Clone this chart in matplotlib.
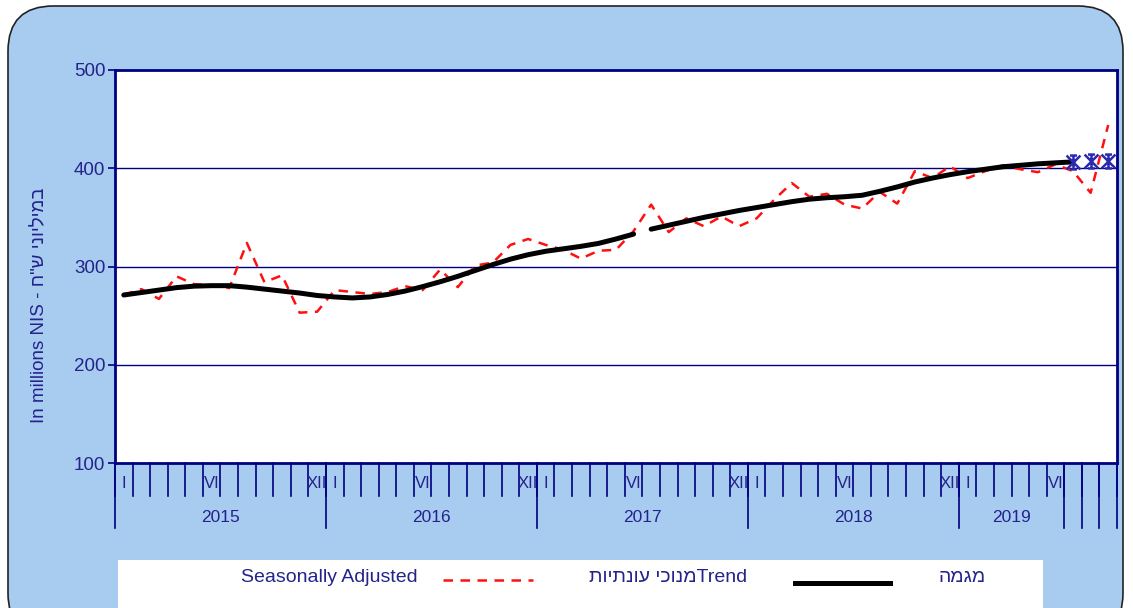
import matplotlib
matplotlib.use('Agg')
import matplotlib.pyplot as plt
from matplotlib.patches import FancyBboxPatch, Rectangle
from matplotlib.lines import Line2D
from matplotlib.path import Path
import numpy as np

# ---------------- data ----------------
# Monthly, Jan 2015 .. Sep 2019 (57 months)
seasonally_adjusted = [
    271, 277, 267, 290, 282, 281, 278, 324, 284, 291, 253, 254,   # 2015
    276, 274, 272, 274, 280, 276, 297, 279, 301, 304, 322, 328,   # 2016
    322, 317, 308, 316, 317, 336, 363, 335, 349, 341, 351, 341,   # 2017
    349, 368, 385, 371, 374, 363, 359, 376, 364, 397, 390, 402,   # 2018
    390, 397, 403, 399, 396, 404, 397, 375, 444,                  # 2019
]
# Trend, first segment: Jan 2015 .. Jun 2017
trend_a = [
    271, 273.5, 276, 278.5, 280, 280.5, 280.5, 279, 277, 275, 273, 270.5,
    269, 268, 269, 271.5, 275, 279.5, 284.5, 290, 296, 302, 307.5, 312,
    315.5, 318, 320.5, 323.5, 328, 333,
]
# Trend, second segment: Jul 2017 .. Jul 2019
trend_b = [
    338, 342, 346, 350, 353.5, 357, 360, 363, 366, 368.5, 370, 371,
    372.5, 376.5, 381, 386, 390, 393.5, 396.5, 399, 401.5, 403, 404.5, 405.5,
    406.5,
]
trend_b_start = 31            # month index (1-based) where segment b starts
# Trend forecast: Jul .. Sep 2019
forecast = [406.5, 407, 407.5]
forecast_start = 55

month_labels = (['I', '', '', '', '', 'VI', '', '', '', '', '', 'XII'] * 4
                + ['I', '', '', '', '', 'VI', '', '', ''])
year_groups = [('2015', 12), ('2016', 12), ('2017', 12), ('2018', 12),
               ('2019', 6), ('', 1), ('', 1), ('', 1)]
y_ticks = [100, 200, 300, 400, 500]

# ---------------- style ----------------
W, H = 1133, 608
BG = '#A8CBF0'
NAVY = '#000080'
TXT = '#23238C'
FONT = ['Liberation Sans', 'DejaVu Sans']
plt.rcParams['font.family'] = FONT

fig = plt.figure(figsize=(W / 100, H / 100), dpi=100)
fig.patch.set_facecolor('white')

# rounded light-blue panel
panel = FancyBboxPatch((8 / W, -0.05), (W - 10) / W - 8 / W, (H - 6) / H + 0.05,
                       boxstyle='round,pad=0,rounding_size=0.04',
                       transform=fig.transFigure, facecolor=BG,
                       edgecolor='#222222', linewidth=1.2,
                       mutation_aspect=W / H, zorder=-10)
fig.patches.append(panel)

left, right, top, bottom = 115 / W, 1117 / W, 1 - 70 / H, 1 - 463 / H
ax = fig.add_axes([left, bottom, right - left, top - bottom])
ax.set_zorder(2)
ax.set_facecolor('white')

n = len(seasonally_adjusted)
x = np.arange(1, n + 1)
ax.set_xlim(0.5, n + 0.5)
ax.set_ylim(y_ticks[0], y_ticks[-1])

# gridlines
for yv in y_ticks[1:-1]:
    ax.axhline(yv, color=NAVY, lw=1.0, zorder=1)

# series
ax.plot(x, seasonally_adjusted, color='#FF1010', lw=1.8,
        dashes=(3.8, 3.0), zorder=3)
xa = np.arange(1, len(trend_a) + 1)
xb = np.arange(trend_b_start, trend_b_start + len(trend_b))
ax.plot(xa, trend_a, color='black', lw=3.6, solid_capstyle='round', zorder=4)
ax.plot(xb, trend_b, color='black', lw=3.6, solid_capstyle='round', zorder=4)

# asterisk-like marker for forecast
verts = [(-1, -1), (1, 1), (-1, 1), (1, -1), (0, -1), (0, 1),
         (-0.5, 1), (0.5, 1), (-0.5, -1), (0.5, -1)]
codes = [Path.MOVETO, Path.LINETO] * 5
star = Path(verts, codes)
xf = np.arange(forecast_start, forecast_start + len(forecast))
ax.plot(xf, forecast, linestyle='none', marker=star, markersize=10,
        markeredgecolor='#2A2AB0', markerfacecolor='none',
        markeredgewidth=1.8, zorder=5)

# spines
for s in ax.spines.values():
    s.set_color(NAVY)
    s.set_linewidth(2.0)

# y axis
ax.set_yticks(y_ticks)
ax.set_yticklabels([str(v) for v in y_ticks])
ax.tick_params(axis='y', colors=NAVY, labelcolor=TXT, labelsize=13.5,
               length=5, width=1.2, direction='out', pad=2)
ax.set_ylabel('In millions NIS - ' + 'במיליוני ש"ח'[::-1], color=TXT,
              fontsize=13.5)
ax.yaxis.set_label_coords((48 - 115) / 1002, (463 - 305) / 393)

# x axis: category layout with two label levels
ax.set_xticks([])
trans = ax.get_xaxis_transform()
ax_h = 463 - 70
short_len = -33 / ax_h
long_len = -65 / ax_h
for k in range(n + 1):
    ax.plot([k + 0.5, k + 0.5], [0, short_len], color=NAVY, lw=1.2,
            transform=trans, clip_on=False)
for i, lab in enumerate(month_labels):
    if lab:
        ax.text(x[i], -21 / ax_h, lab, transform=trans, ha='center',
                va='center', color=TXT, fontsize=12)
pos = 0
bounds = [0]
for name, cnt in year_groups:
    if name:
        ax.text(pos + cnt / 2 + 0.5, -54 / ax_h, name, transform=trans,
                ha='center', va='center', color=TXT, fontsize=12.5)
    pos += cnt
    bounds.append(pos)
for b in bounds:
    ax.plot([b + 0.5, b + 0.5], [0, long_len], color=NAVY, lw=1.2,
            transform=trans, clip_on=False)

# ---------------- legend (drawn manually) ----------------
fig.patches.append(Rectangle((118 / W, 0), (1043 - 118) / W, (H - 560) / H,
                             transform=fig.transFigure, facecolor='white',
                             edgecolor='none', zorder=-5))
ly = 1 - 578 / H
fig.text(418 / W, ly, 'Seasonally Adjusted', ha='right', va='center',
         color=TXT, fontsize=14, zorder=3)
fig.add_artist(Line2D([443 / W, 533 / W], [1 - 580 / H] * 2,
                      transform=fig.transFigure, color='#FF1010', lw=1.8,
                      dashes=(3.8, 3.0), zorder=3))
fig.text(747 / W, ly, 'מנוכי עונתיות'[::-1] + 'Trend', ha='right',
         va='center', color=TXT, fontsize=14, zorder=3)
fig.add_artist(Line2D([795 / W, 890 / W], [1 - 583 / H] * 2,
                      transform=fig.transFigure, color='black', lw=3.6,
                      zorder=3))
fig.text(986 / W, ly, 'מגמה'[::-1], ha='right', va='center', color=TXT,
         fontsize=14, zorder=3)

fig.savefig('out.png', dpi=100, facecolor=fig.get_facecolor())
